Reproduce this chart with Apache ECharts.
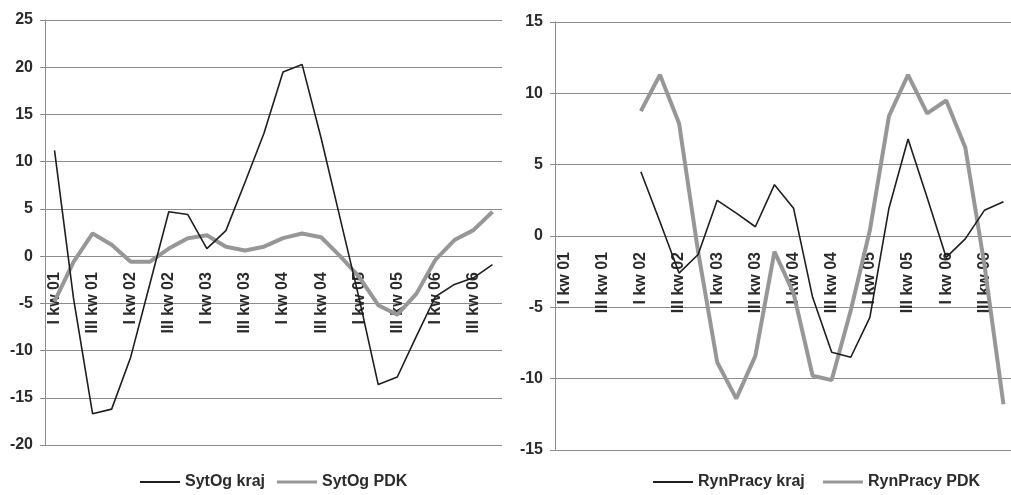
<!DOCTYPE html>
<html>
<head>
<meta charset="utf-8">
<script src="https://cdn.jsdelivr.net/npm/echarts@6/dist/echarts.min.js"></script>
<style>
  html, body { margin: 0; padding: 0; background: #fff; }
  #chart { width: 1011px; height: 495px; }
</style>
</head>
<body>
<div id="chart"></div>
<script>
// Quarters 2001-2006
const quarters = [
  'I kw 01', 'II kw 01', 'III kw 01', 'IV kw 01',
  'I kw 02', 'II kw 02', 'III kw 02', 'IV kw 02',
  'I kw 03', 'II kw 03', 'III kw 03', 'IV kw 03',
  'I kw 04', 'II kw 04', 'III kw 04', 'IV kw 04',
  'I kw 05', 'II kw 05', 'III kw 05', 'IV kw 05',
  'I kw 06', 'II kw 06', 'III kw 06', 'IV kw 06'
];

// Sytuacja ogólna
const sytOgKraj = [11.2, -4.5, -16.7, -16.2, -10.7, -3.0, 4.7, 4.4, 0.8, 2.7, 7.8, 13.0,
                   19.5, 20.3, 12.5, 4.0, -4.5, -13.6, -12.8, -8.5, -4.3, -3.0, -2.3, -0.9];
const sytOgPDK  = [-4.8, -0.6, 2.4, 1.2, -0.6, -0.6, 0.8, 1.9, 2.2, 1.0, 0.6, 1.0,
                   1.9, 2.4, 2.0, 0.0, -2.2, -5.2, -6.2, -4.0, -0.4, 1.7, 2.75, 4.7];

// Rynek pracy (no readings before I kw 02)
const rynPracyKraj = [null, null, null, null, 4.5, 1.0, -2.6, -1.3, 2.5, 1.6, 0.65, 3.6,
                      1.95, -4.3, -8.15, -8.5, -5.7, 1.95, 6.8, 2.7, -1.5, -0.2, 1.8, 2.4];
const rynPracyPDK  = [null, null, null, null, 8.75, 11.3, 7.9, -1.1, -8.85, -11.4, -8.4, -1.1,
                      -4.0, -9.8, -10.1, -5.2, 0.4, 8.4, 11.3, 8.6, 9.5, 6.2, -2.0, -11.8];

const leftTicks  = { min: -20, max: 25, interval: 5 };
const rightTicks = { min: -15, max: 15, interval: 5 };

const FONT = '"Liberation Sans", Arial, sans-serif';
const TEXT = '#2b2b2b';
const GRID_LINE = '#8c8c8c';
const KRAJ_COLOR = '#1e1e1e';
const PDK_COLOR = '#979797';

// plot areas of the two panels
const grids = [
  { left: 45, top: 20, width: 457, height: 425 },
  { left: 555, top: 22, width: 458, height: 428 }
];

// the category axis sits on the value 0 line of its panel
function zeroOffset(grid, ticks) {
  return -grid.height * (0 - ticks.min) / (ticks.max - ticks.min);
}

function xAxis(gridIndex, ticks) {
  return {
    type: 'category',
    gridIndex,
    data: quarters,
    boundaryGap: true,
    position: 'bottom',
    offset: zeroOffset(grids[gridIndex], ticks),
    axisLine: { onZero: false, lineStyle: { color: GRID_LINE, width: 1 } },
    axisTick: { interval: 0, length: 4, lineStyle: { color: GRID_LINE } },
    axisLabel: {
      interval: 1,
      rotate: 90,
      margin: 16,
      color: TEXT,
      fontFamily: FONT,
      fontWeight: 'bold',
      fontSize: 16
    },
    splitLine: { show: false }
  };
}

function yAxis(gridIndex, ticks) {
  return {
    type: 'value',
    gridIndex,
    min: ticks.min,
    max: ticks.max,
    interval: ticks.interval,
    axisLine: { show: true, onZero: false, lineStyle: { color: GRID_LINE, width: 1 } },
    axisTick: { show: true, length: 5, lineStyle: { color: GRID_LINE } },
    axisLabel: {
      margin: 12,
      color: TEXT,
      fontFamily: FONT,
      fontWeight: 'bold',
      fontSize: 16
    },
    splitLine: { show: true, lineStyle: { color: GRID_LINE, width: 1 } }
  };
}

function lineSeries(name, data, axisIndex, color, width) {
  return {
    name,
    type: 'line',
    data,
    xAxisIndex: axisIndex,
    yAxisIndex: axisIndex,
    symbol: 'none',
    connectNulls: false,
    lineStyle: { color, width },
    itemStyle: { color },
    z: width > 2 ? 2 : 3
  };
}

function legendItem(name, left, color, thickness) {
  return {
    data: [name],
    left,
    top: 474,
    padding: 0,
    icon: 'rect',
    itemWidth: 40,
    itemHeight: thickness,
    itemStyle: { color },
    textStyle: { color: TEXT, fontFamily: FONT, fontWeight: 'bold', fontSize: 16 },
    selectedMode: false
  };
}

const chart = echarts.init(document.getElementById('chart'), null, { renderer: 'canvas' });

chart.setOption({
  animation: false,
  backgroundColor: '#ffffff',
  grid: grids.map(g => Object.assign({ outerBoundsMode: 'none', containLabel: false }, g)),
  xAxis: [xAxis(0, leftTicks), xAxis(1, rightTicks)],
  yAxis: [yAxis(0, leftTicks), yAxis(1, rightTicks)],
  legend: [
    legendItem('SytOg kraj', 140, KRAJ_COLOR, 2),
    legendItem('SytOg PDK', 277, PDK_COLOR, 3),
    legendItem('RynPracy kraj', 653, KRAJ_COLOR, 2),
    legendItem('RynPracy PDK', 823, PDK_COLOR, 3)
  ],
  series: [
    lineSeries('SytOg kraj', sytOgKraj, 0, KRAJ_COLOR, 1.6),
    lineSeries('SytOg PDK', sytOgPDK, 0, PDK_COLOR, 4),
    lineSeries('RynPracy kraj', rynPracyKraj, 1, KRAJ_COLOR, 1.6),
    lineSeries('RynPracy PDK', rynPracyPDK, 1, PDK_COLOR, 4)
  ]
});
</script>
</body>
</html>
